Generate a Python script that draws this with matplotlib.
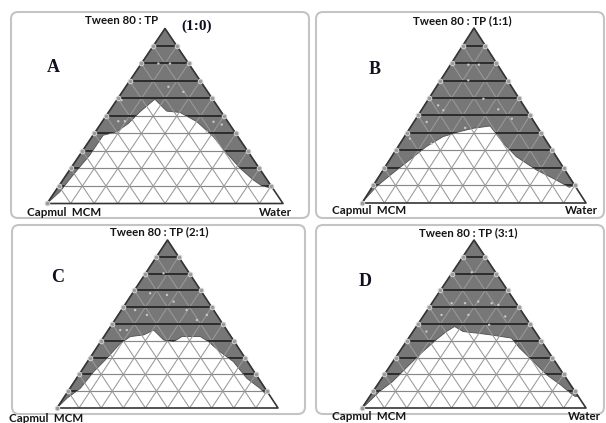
#!/usr/bin/python
# -*- encoding: UTF-8 -*-
'''Pseudo-ternary phase diagrams, Capmul MCM / Tween 80:TP / water

    List of functions:
        tern
        draw_panel
        main
'''

import numpy as np
import matplotlib
matplotlib.use('Agg')
import matplotlib.pyplot as plt
from matplotlib.patches import FancyBboxPatch, Polygon

# inner edge of the shaded (microemulsion) region, % w/w
# walked from the water edge back to the Capmul MCM corner
a_smix  = [8.6, 10.1, 13.3, 20.0, 28.6, 38.1, 46.7, 52.0, 52.8, 59.6,
           52.4, 45.7, 41.0, 39.0, 27.6, 16.2, 6.7, 0.0]
a_water = [91.4, 86.0, 80.9, 71.9, 61.9, 51.5, 40.2, 30.4, 24.3, 15.9,
           13.2, 11.6, 9.0, 4.3, 4.3, 2.9, 2.1, 0.0]

b_smix  = [10.0, 9.0, 13.1, 18.9, 26.5, 34.3, 44.0, 42.7, 40.8, 37.9,
           32.2, 24.6, 17.0, 9.3, 1.7, 0.0]
b_water = [90.0, 88.0, 80.2, 68.4, 55.6, 45.9, 35.2, 28.3, 23.2, 17.2,
           12.6, 8.9, 5.2, 1.7, 0.2, 0.0]

c_smix  = [8.5, 8.7, 11.7, 17.7, 27.6, 33.5, 39.5, 42.5, 42.5, 39.5,
           40.5, 46.4, 43.5, 42.5, 38.5, 29.6, 21.6, 11.7, 5.8, 0.0]
c_water = [91.5, 89.8, 86.0, 77.0, 66.0, 57.0, 48.8, 43.6, 35.3, 33.0,
           28.0, 20.5, 17.5, 11.9, 9.4, 7.8, 5.8, 4.7, 1.6, 0.0]

d_smix  = [7.0, 6.9, 8.9, 13.9, 19.8, 27.7, 35.6, 41.6, 43.6, 44.6,
           45.5, 48.5, 45.5, 40.6, 33.7, 23.8, 15.8, 9.9, 2.0, 0.0]
d_water = [93.0, 91.7, 88.6, 81.6, 72.5, 62.6, 52.6, 45.9, 35.2, 28.7,
           22.4, 17.1, 14.9, 12.8, 10.4, 7.8, 5.8, 2.9, 0.8, 0.0]

# titrated compositions inside the region (smix %, water %)
a_pts_smix  = [80.0, 80.0, 66.7, 63.8, 59.0, 47.0, 47.0, 46.7, 45.1, 41.0]
a_pts_water = [7.2, 12.1, 18.1, 25.9, 2.1, 6.7, 9.5, 47.2, 51.5, 47.2]
b_pts_smix  = [79.0, 79.0, 70.1, 59.6, 55.8, 53.0, 53.5, 48.2, 46.3, 42.9,
               36.8, 33.9]
b_pts_water = [8.0, 12.7, 12.4, 24.4, 6.1, 9.8, 34.1, 42.8, 5.7, 24.6,
               3.0, 14.1]
c_pts_smix  = [80.2, 68.3, 67.3, 63.3, 58.3, 55.4, 58.3, 55.4, 52.4, 46.4,
               46.4]
c_pts_water = [8.1, 8.0, 16.1, 21.1, 6.2, 13.0, 29.5, 40.1, 37.1, 5.4, 8.4]
d_pts_smix  = [80.8, 62.4, 63.4, 62.4, 62.4, 61.4, 55.4, 55.4, 54.5, 45.5,
               49.5]
d_pts_water = [8.6, 14.8, 20.2, 8.8, 26.7, 30.2, 19.8, 7.8, 36.7, 6.0, 32.0]

# grid levels where the edge points were taken
edge_levels = [10, 20, 30, 40, 50, 60, 70, 80, 90]

ratios = ['(1:0)', '(1:1)', '(2:1)', '(3:1)']
letters = ['A', 'B', 'C', 'D']

W, H = 606, 423

#==============================================================================
def tern(smix, water):
    '''smix/water in % -> unit triangle x, y (oil fills the rest)'''
    smix = np.asarray(smix, float) / 100.0
    water = np.asarray(water, float) / 100.0
    return water + smix / 2.0, smix
# END tern

#==============================================================================
def draw_panel(fig, frame, smix, water, pts_smix, pts_water):
    # frame = triangle bounding box in pixels: x0, x1, y_top, y_base
    x0, x1, yt, yb = frame
    ax = fig.add_axes([x0 / W, 1 - yb / H, (x1 - x0) / W, (yb - yt) / H])
    ax.set_xlim(0, 1)
    ax.set_ylim(0, 1)
    ax.axis('off')

    # shaded region: apex, down the water edge, back along inner boundary
    bx, by = tern([100.0] + list(smix), [0.0] + list(water))
    region = Polygon(np.column_stack([bx, by]), closed=True,
                     facecolor='#777777', edgecolor='#505050', lw=0.6,
                     zorder=1)
    ax.add_patch(region)

    lv = np.arange(1, 10) / 10.0
    for c in lv:
        # constant water and constant oil
        ax.plot([c, c + (1 - c) / 2], [0, 1 - c], color='#999999',
                lw=0.75, zorder=2)
        ax.plot([1 - c, (1 - c) / 2], [0, 1 - c], color='#999999',
                lw=0.75, zorder=2)
        ax.plot([c / 2, 1 - c / 2], [c, c], color='#888888',
                lw=0.85, zorder=2)
        dark, = ax.plot([c / 2, 1 - c / 2], [c, c], color='#2c2c2c',
                        lw=1.4, zorder=3)
        dark.set_clip_path(region)

    ax.plot([0, 1, 0.5, 0], [0, 0, 1, 0], color='#353535', lw=1.2,
            zorder=4, clip_on=False)

    # points on the two edges and the corner
    lx, ly = tern(edge_levels, [0] * len(edge_levels))
    rx, ry = tern(edge_levels, [100 - s for s in edge_levels])
    ex = np.concatenate([lx, rx, [0.0]])
    ey = np.concatenate([ly, ry, [0.0]])
    ax.scatter(ex, ey, s=11, facecolor='#9a9a9a', edgecolor='#d4d4d4',
               lw=0.7, zorder=5, clip_on=False)
    px, py = tern(pts_smix, pts_water)
    ax.scatter(px, py, s=3, facecolor='#c8c8c8', edgecolor='none',
               zorder=5)
    return ax
# END draw_panel

#==============================================================================
def main():
    fig = plt.figure(figsize=(W / 100.0, H / 100.0), dpi=100)
    bg = fig.add_axes([0, 0, 1, 1])
    bg.set_xlim(0, W)
    bg.set_ylim(H, 0)
    bg.axis('off')

    sans = dict(family=['Lato', 'DejaVu Sans'], weight='bold', fontsize=8.3,
                color='#151515', ha='center', va='center')
    serif = dict(family=['Liberation Serif', 'DejaVu Serif'], weight='bold',
                 color='#101020', ha='center', va='center')

    boxes = [(11, 12, 298, 206), (316, 12, 288, 206),
             (12, 225, 293, 189), (316, 225, 288, 189)]
    for x, y, w, h in boxes:
        bg.add_patch(FancyBboxPatch((x, y), w, h,
                                    boxstyle='round,pad=0,rounding_size=7',
                                    facecolor='white', edgecolor='#c4c4c4',
                                    lw=1.5))

    frames = [(47, 283, 28.5, 203.5), (362, 586, 28, 203),
              (57, 278, 240, 408), (362, 586, 240, 408)]
    data = [(a_smix, a_water, a_pts_smix, a_pts_water),
            (b_smix, b_water, b_pts_smix, b_pts_water),
            (c_smix, c_water, c_pts_smix, c_pts_water),
            (d_smix, d_water, d_pts_smix, d_pts_water)]
    for fr, dd in zip(frames, data):
        draw_panel(fig, fr, *dd)

    # panel A: ratio written apart from the title
    bg.text(122, 20, 'Tween 80 : TP', **sans)
    bg.text(197, 26, ratios[0], fontsize=11, **serif)
    bg.text(462, 21, 'Tween 80 : TP ' + ratios[1], **sans)
    bg.text(159, 232, 'Tween 80 : TP ' + ratios[2], **sans)
    bg.text(468, 233, 'Tween 80 : TP ' + ratios[3], **sans)

    for (x, y), s in zip([(53, 68), (375, 70), (58, 277), (365, 282)],
                         letters):
        bg.text(x, y, s, fontsize=13, **serif)

    bg.text(64, 212, 'Capmul  MCM', **sans)
    bg.text(275, 212, 'Water', **sans)
    bg.text(369, 211, 'Capmul  MCM', **sans)
    bg.text(581, 211, 'Water', **sans)
    bg.text(46, 419, 'Capmul  MCM', **sans)
    bg.text(369, 417, 'Capmul  MCM', **sans)
    bg.text(584, 417, 'Water', **sans)

    fig.savefig('out.png', dpi=100)
# END main

#==============================================================================
if __name__ == '__main__': main()
